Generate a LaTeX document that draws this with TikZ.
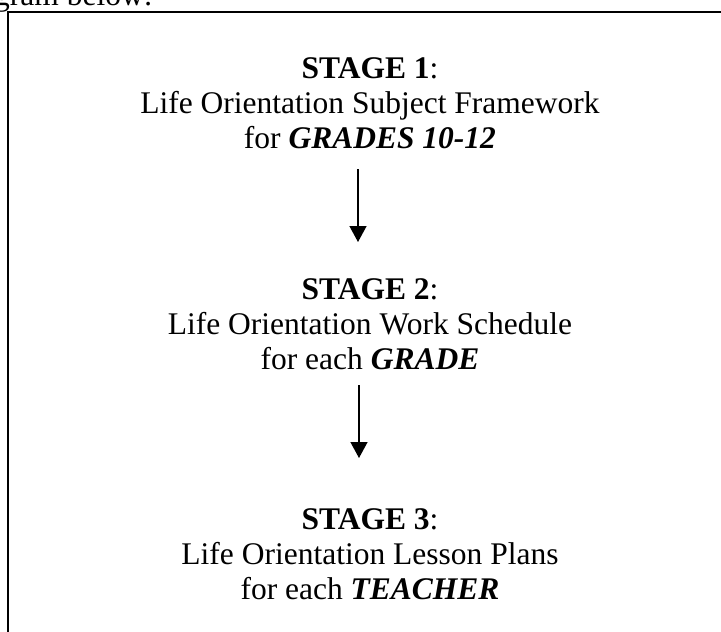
\documentclass[tikz,border=0pt]{standalone}
\usepackage{fontspec}
\setmainfont{Liberation Serif}
\usetikzlibrary{arrows.meta}
\tikzset{
  stagetext/.style={anchor=north, inner sep=0pt, align=center, font=\fontsize{31.5}{35}\selectfont},
  flowarrow/.style={line width=1.4pt, -{Triangle[width=17pt,length=16pt]}},
  frameline/.style={line width=2pt},
}
\begin{document}
\begin{tikzpicture}[x=1pt,y=-1pt]
\useasboundingbox (0,0) rectangle (721,632);
\fill[white] (0,0) rectangle (721,632);
% cut-off line of text above the frame
\node[anchor=base west, inner sep=0pt, font=\fontsize{31.5}{35}\selectfont] (intro) at (-6,5) {gram below:};
% frame (cut by the page on the right and bottom)
\draw[frameline] (8,640) -- (8,12) -- (730,12);
% stages
\node[stagetext] (s1) at (370,57.7) {\textbf{STAGE 1}:\\Life Orientation Subject Framework\\for \textbf{\textit{GRADES 10-12}}};
\node[stagetext] (s2) at (370,278.7) {\textbf{STAGE 2}:\\Life Orientation Work Schedule\\for each \textbf{\textit{GRADE}}};
\node[stagetext] (s3) at (370,508.7) {\textbf{STAGE 3}:\\Life Orientation Lesson Plans\\for each \textbf{\textit{TEACHER}}};
% arrows
\coordinate (a1s) at (358,169);
\coordinate (a1e) at (358,242);
\coordinate (a2s) at (359,385);
\coordinate (a2e) at (359,458);
\draw[flowarrow] (a1s) -- (a1e);
\draw[flowarrow] (a2s) -- (a2e);
\end{tikzpicture}
\end{document}
